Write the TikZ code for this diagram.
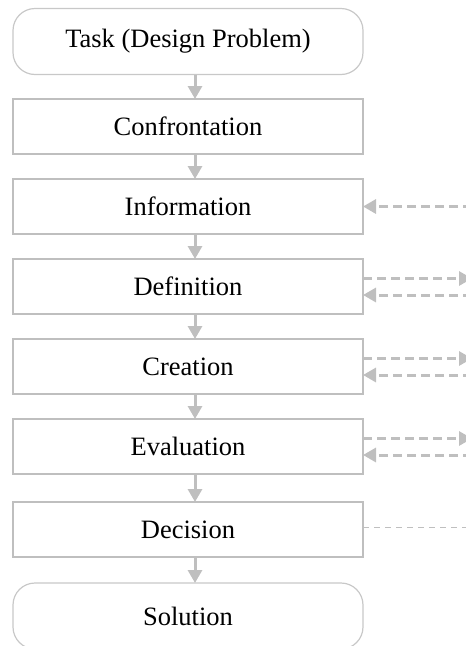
\documentclass[tikz,border=0pt]{standalone}
\usepackage{fontspec}
\setmainfont{Liberation Serif}
\usetikzlibrary{arrows.meta, positioning}
\definecolor{flowGrey}{HTML}{BFBFBF}
\definecolor{flowLight}{HTML}{C8C8C8}

\begin{document}
\begin{tikzpicture}[x=1pt, y=1pt,
  font=\fontsize{26.5}{30}\selectfont, node distance=25pt,
  phase/.style={draw=flowGrey, line width=2.3pt, outer sep=0pt, inner sep=0pt,
                minimum width=350pt, minimum height=55pt},
  term/.style={draw=flowLight, line width=1.2pt, outer sep=0pt, inner sep=0pt,
               rounded corners=22pt, minimum width=350pt, minimum height=66pt},
  ar/.style={-{Triangle[length=13pt, width=14pt]}, draw=flowGrey, line width=3pt},
  back/.style={ar, dash pattern=on 9pt off 5pt},
  loose/.style={draw=flowGrey, line width=1.5pt, dash pattern=on 6pt off 5pt},
]
\useasboundingbox (0,0) rectangle (466,-646);
\clip (0,0) rectangle (466,-646);

\node[term] (task) at (188,-41.5) {Task (Design Problem)};
\node[phase, below=24.5pt of task] (conf) {Confrontation};
\node[phase, below=of conf] (info) {Information};
\node[phase, below=of info] (def) {Definition};
\node[phase, below=of def] (cre) {Creation};
\node[phase, below=of cre] (eva) {Evaluation};
\node[phase, below=28pt of eva] (dec) {Decision};
\node[term, below=26pt of dec] (sol) {Solution};

\coordinate (edge) at (472,0);

% main flow
\foreach \a/\b in {task/conf, conf/info, info/def, def/cre, cre/eva, eva/dec, dec/sol}
  \draw[ar] ([xshift=7pt]\a.south) -- ([xshift=7pt]\b.north);

% feedback to the right
\draw[back] (info.east -| edge) -- (info.east);
\foreach \n in {def, cre, eva} {
  \draw[back] ([yshift=8pt]\n.east) -- ([yshift=8pt]\n.east -| edge);
  \draw[back] ([yshift=-8.5pt]\n.east -| edge) -- ([yshift=-8.5pt]\n.east);
}
\draw[loose] ([yshift=2pt]dec.east) -- ([yshift=2pt]dec.east -| edge);
\end{tikzpicture}
\end{document}
